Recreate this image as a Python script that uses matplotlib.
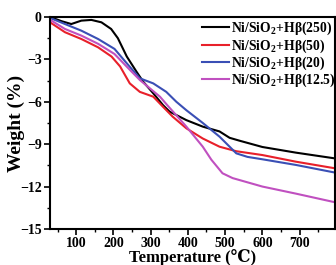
import matplotlib
matplotlib.use("Agg")
import matplotlib.pyplot as plt
from matplotlib.ticker import MultipleLocator

plt.rcParams["font.family"] = ["Liberation Serif", "DejaVu Serif"]
plt.rcParams["font.weight"] = "bold"
plt.rcParams["mathtext.fontset"] = "custom"
plt.rcParams["mathtext.rm"] = "Liberation Serif:bold"
plt.rcParams["mathtext.bf"] = "Liberation Serif:bold"

# Temperature (C) / weight (%)
t_250 = [30, 61, 87, 114, 141, 168, 194, 212, 236, 262, 280, 307, 333, 351, 396, 440, 485, 512, 538, 600, 690, 793]
w_250 = [0, -0.3, -0.5, -0.26, -0.21, -0.38, -0.85, -1.5, -2.8, -3.87, -4.58, -5.4, -6.23, -6.7, -7.3,
         -7.76, -8.1, -8.55, -8.75, -9.2, -9.6, -10.0]

t_50 = [30, 70, 114, 159, 195, 218, 244, 271, 307, 333, 359, 396, 440, 485, 530, 600, 690, 793]
w_50 = [-0.38, -1.08, -1.56, -2.15, -2.8, -3.5, -4.7, -5.3, -5.64, -6.35, -7.05, -7.88, -8.6, -9.18,
        -9.5, -9.77, -10.24, -10.7]

t_20 = [30, 70, 114, 159, 203, 236, 271, 307, 342, 369, 396, 440, 485, 530, 560, 600, 690, 793]
w_20 = [-0.07, -0.5, -0.97, -1.56, -2.26, -3.28, -4.34, -4.7, -5.3, -6.0, -6.6, -7.5, -8.47, -9.65,
        -9.9, -10.07, -10.47, -11.0]

t_12 = [30, 70, 114, 159, 203, 236, 271, 298, 325, 345, 396, 440, 463, 493, 520, 600, 690, 793]
w_12 = [-0.2, -0.85, -1.32, -1.9, -2.62, -3.52, -4.46, -5.05, -5.64, -6.25, -7.76, -9.18, -10.1,
        -11.06, -11.4, -12.0, -12.5, -13.1]

labels = [r"Ni/SiO$_2$+Hβ(250)", r"Ni/SiO$_2$+Hβ(50)",
          r"Ni/SiO$_2$+Hβ(20)", r"Ni/SiO$_2$+Hβ(12.5)"]
colors = ["black", "#e8202a", "#3a4fb5", "#c050c0"]

fig = plt.figure(figsize=(3.36, 2.65), dpi=100)
ax = fig.add_axes([0.149, 0.136, 0.848, 0.800])

series = [(t_250, w_250), (t_50, w_50), (t_20, w_20), (t_12, w_12)]
for (t, w), lab, c in zip(series, labels, colors):
    ax.plot(t, w, color=c, lw=1.5, label=lab)

ax.set_xlim(30, 795)
ax.set_ylim(-15, 0)
ax.xaxis.set_minor_locator(MultipleLocator(50))
ax.yaxis.set_major_locator(MultipleLocator(3))
ax.yaxis.set_minor_locator(MultipleLocator(1.5))
ax.set_xticks([100, 200, 300, 400, 500, 600, 700])
ax.tick_params(which="major", length=4, width=1.2, labelsize=10, pad=2)
ax.tick_params(which="minor", length=2.5, width=1)
for s in ax.spines.values():
    s.set_linewidth(1.5)

ax.set_xlabel("Temperature (℃)", fontsize=12, fontweight="bold", labelpad=-1)
ax.set_ylabel("Weight (%)", fontsize=14, fontweight="bold")
ax.yaxis.set_label_coords(-0.088, 0.5)

ax.legend(loc="upper right", bbox_to_anchor=(1.03, 1.025), frameon=False, fontsize=9.8,
          handlelength=2.0, handletextpad=0.15, labelspacing=0.0, borderaxespad=0.2)

fig.savefig("out.png", dpi=100)
